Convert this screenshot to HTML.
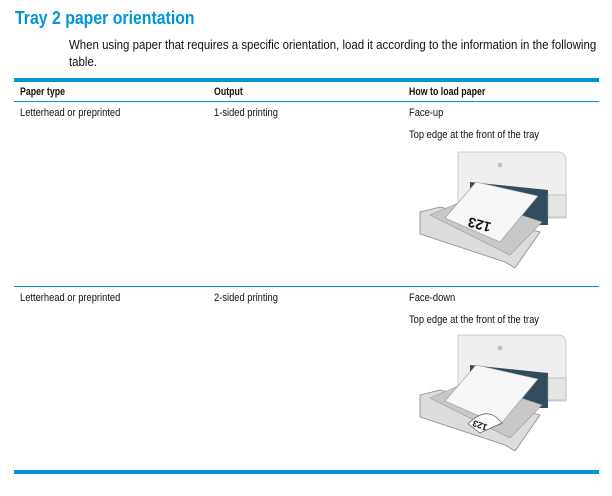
<!DOCTYPE html>
<html><head><meta charset="utf-8"><style>
body{margin:0;width:612px;height:496px;background:#fff;font-family:"Liberation Sans",sans-serif;position:relative;overflow:hidden;color:#111}
.a{position:absolute;white-space:nowrap}
.t{font-size:11px;transform:scaleX(.85);transform-origin:0 0}
.h{font-size:11px;font-weight:bold;transform:scaleX(.8);transform-origin:0 0}
.bar{position:absolute;left:14px;width:585px;background:#0096d6}
</style></head><body>
<div class="a" style="left:15px;top:8px;font-size:18px;font-weight:bold;color:#0096d6;transform:scaleX(.88);transform-origin:0 0">Tray 2 paper orientation</div>
<div class="a" style="left:69px;top:36px;font-size:13px;line-height:17px;transform:scaleX(.88);transform-origin:0 0">When using paper that requires a specific orientation, load it according to the information in the following<br>table.</div>
<div class="bar" style="top:78px;height:4px"></div>
<div class="a h" style="left:20px;top:86px">Paper type</div>
<div class="a h" style="left:214px;top:86px">Output</div>
<div class="a h" style="left:409px;top:86px">How to load paper</div>
<div class="bar" style="top:101px;height:1px"></div>
<div class="a t" style="left:20px;top:107px">Letterhead or preprinted</div>
<div class="a t" style="left:214px;top:107px">1-sided printing</div>
<div class="a t" style="left:409px;top:107px">Face-up</div>
<div class="a t" style="left:409px;top:129px">Top edge at the front of the tray</div>
<div class="bar" style="top:286px;height:1px"></div>
<div class="a t" style="left:20px;top:292px">Letterhead or preprinted</div>
<div class="a t" style="left:214px;top:292px">2-sided printing</div>
<div class="a t" style="left:409px;top:292px">Face-down</div>
<div class="a t" style="left:409px;top:314px">Top edge at the front of the tray</div>
<div class="bar" style="top:470px;height:4px"></div>
<svg width="612" height="496" style="position:absolute;left:0;top:0">
<defs><g id="pr">
<path d="M458 152 L560 152 Q566 154 566 160 L566 218 L458 218 Z" fill="#efefef" stroke="#c4c4c4" stroke-width=".8"/>
<path d="M470 182 L548 190 L548 225 L470 225 Z" fill="#2f4d5c"/>
<rect x="548" y="195" width="18" height="22" fill="#e6e6e6" stroke="#aaa" stroke-width=".6"/>
<path d="M420 212 L440 207 L540 232 L515 268 L505 262 L420 234 Z" fill="#dcdcdc" stroke="#888" stroke-width=".8"/>
<path d="M430 215 L470 198 L542 222 L510 255 Z" fill="#c8c8c8" stroke="#999" stroke-width=".6"/>
<path d="M445 218 L476 182 L538 196 L500 242 Z" fill="#f7f7f7" stroke="#999" stroke-width=".6"/>
<circle cx="500" cy="165" r="2.5" fill="#c4c4c4"/>
</g></defs>
<use href="#pr"/>
<text x="0" y="0" font-size="14" font-weight="bold" font-family="Liberation Sans" transform="translate(492,223) rotate(195)" fill="#111">123</text>
<use href="#pr" transform="translate(0,183)"/>
<path d="M468 424 Q484 408 496 417 L502 423 L480 433 Z" fill="#fff" stroke="#555" stroke-width=".7"/>
<text x="0" y="0" font-size="9" font-weight="bold" font-family="Liberation Sans" transform="translate(488,425) rotate(200)" fill="#111">123</text>
</svg>
</body></html>
